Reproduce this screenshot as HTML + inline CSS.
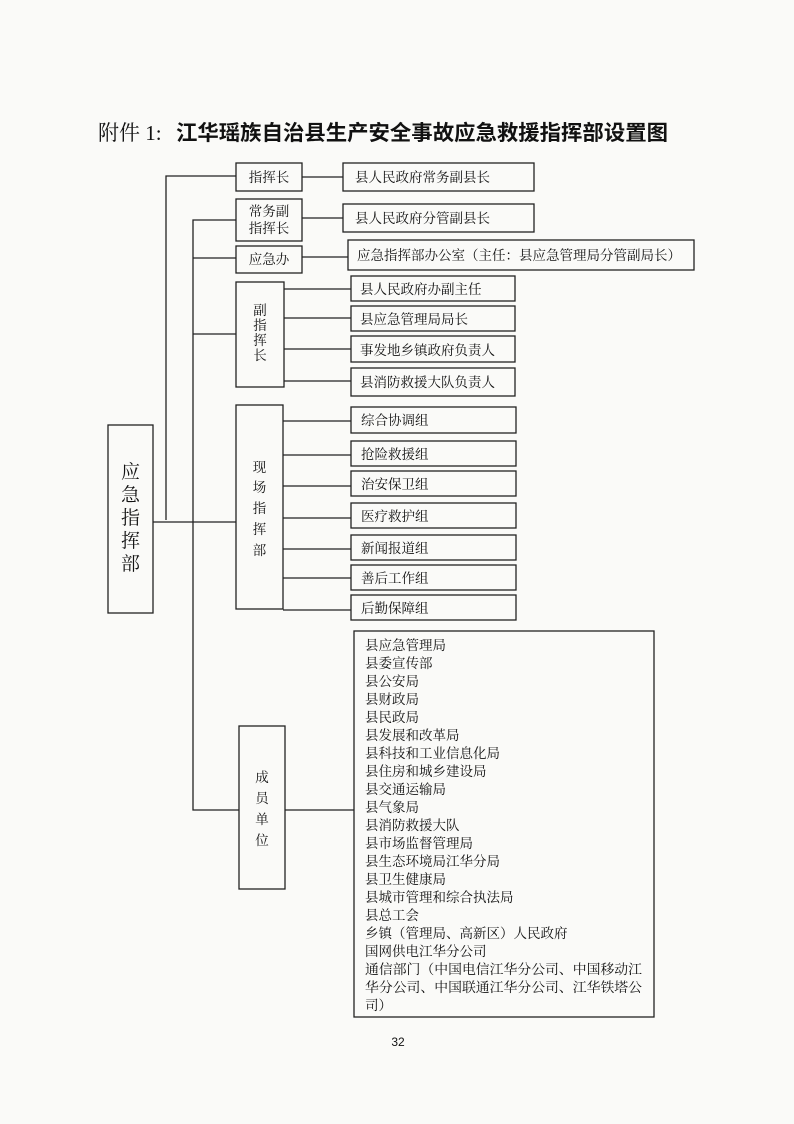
<!DOCTYPE html>
<html><head><meta charset="utf-8"><style>
html,body{margin:0;padding:0;background:#fafaf8;}
svg{display:block;}
text{font-family:"Liberation Serif","Noto Serif CJK SC","Noto Sans CJK SC",serif;fill:#111;}
.b{fill:none;stroke:#222;stroke-width:1.3;}
.l{stroke:#222;stroke-width:1.3;fill:none;}
.t{font-size:13.5px;}
</style></head><body>
<svg width="794" height="1124" viewBox="0 0 794 1124" xmlns="http://www.w3.org/2000/svg">
<text x="98" y="140" style="font-size:21px">附件 1:</text>
<text x="176" y="140" style="font-size:21px;font-weight:bold;font-family:'Noto Sans CJK SC',sans-serif" textLength="492" lengthAdjust="spacingAndGlyphs">江华瑶族自治县生产安全事故应急救援指挥部设置图</text>

<!-- trunk lines -->
<polyline class="l" points="236,176 166,176 166,520"/>
<line class="l" x1="153" y1="522" x2="236" y2="522"/>
<polyline class="l" points="236,220 193,220 193,810 239,810"/>
<line class="l" x1="193" y1="258" x2="236" y2="258"/>
<line class="l" x1="193" y1="334" x2="236" y2="334"/>

<!-- 应急指挥部 -->
<rect class="b" x="108" y="425" width="45" height="188"/>
<text x="130.5" y="478" text-anchor="middle" style="font-size:19px">应</text>
<text x="130.5" y="501" text-anchor="middle" style="font-size:19px">急</text>
<text x="130.5" y="524" text-anchor="middle" style="font-size:19px">指</text>
<text x="130.5" y="547" text-anchor="middle" style="font-size:19px">挥</text>
<text x="130.5" y="570" text-anchor="middle" style="font-size:19px">部</text>

<!-- 指挥长 -->
<rect class="b" x="236" y="163" width="66" height="28"/>
<text class="t" x="269" y="182" text-anchor="middle">指挥长</text>
<line class="l" x1="302" y1="177" x2="343" y2="177"/>
<rect class="b" x="343" y="163" width="191" height="28"/>
<text class="t" x="355" y="182">县人民政府常务副县长</text>

<!-- 常务副指挥长 -->
<rect class="b" x="236" y="199" width="66" height="42"/>
<text class="t" x="269" y="216" text-anchor="middle">常务副</text>
<text class="t" x="269" y="233" text-anchor="middle">指挥长</text>
<line class="l" x1="302" y1="218" x2="343" y2="218"/>
<rect class="b" x="343" y="204" width="191" height="28"/>
<text class="t" x="355" y="223">县人民政府分管副县长</text>

<!-- 应急办 -->
<rect class="b" x="236" y="246" width="66" height="27"/>
<text class="t" x="269" y="264" text-anchor="middle">应急办</text>
<line class="l" x1="302" y1="257" x2="348" y2="257"/>
<rect class="b" x="348" y="240" width="346" height="30"/>
<text class="t" x="357" y="260">应急指挥部办公室（主任：县应急管理局分管副局长）</text>

<!-- 副指挥长 -->
<rect class="b" x="236" y="282" width="48" height="105"/>
<text class="t" x="260" y="315" text-anchor="middle">副</text>
<text class="t" x="260" y="330" text-anchor="middle">指</text>
<text class="t" x="260" y="345" text-anchor="middle">挥</text>
<text class="t" x="260" y="360" text-anchor="middle">长</text>
<line class="l" x1="284" y1="289" x2="351" y2="289"/>
<line class="l" x1="284" y1="318" x2="351" y2="318"/>
<line class="l" x1="284" y1="349" x2="351" y2="349"/>
<line class="l" x1="284" y1="381" x2="351" y2="381"/>
<rect class="b" x="351" y="276" width="164" height="25"/><text class="t" x="360" y="294">县人民政府办副主任</text>
<rect class="b" x="351" y="306" width="164" height="25"/><text class="t" x="360" y="324">县应急管理局局长</text>
<rect class="b" x="351" y="336" width="164" height="26"/><text class="t" x="360" y="355">事发地乡镇政府负责人</text>
<rect class="b" x="351" y="368" width="164" height="28"/><text class="t" x="360" y="387">县消防救援大队负责人</text>

<!-- 现场指挥部 -->
<rect class="b" x="236" y="405" width="47" height="204"/>
<text class="t" x="259.5" y="472" text-anchor="middle">现</text>
<text class="t" x="259.5" y="492" text-anchor="middle">场</text>
<text class="t" x="259.5" y="513" text-anchor="middle">指</text>
<text class="t" x="259.5" y="534" text-anchor="middle">挥</text>
<text class="t" x="259.5" y="555" text-anchor="middle">部</text>
<line class="l" x1="283" y1="421" x2="351" y2="421"/>
<line class="l" x1="283" y1="455" x2="351" y2="455"/>
<line class="l" x1="283" y1="486" x2="351" y2="486"/>
<line class="l" x1="283" y1="518" x2="351" y2="518"/>
<line class="l" x1="283" y1="549" x2="351" y2="549"/>
<line class="l" x1="283" y1="578" x2="351" y2="578"/>
<line class="l" x1="283" y1="610" x2="351" y2="610"/>
<rect class="b" x="351" y="407" width="165" height="26"/><text class="t" x="361" y="425">综合协调组</text>
<rect class="b" x="351" y="441" width="165" height="25"/><text class="t" x="361" y="459">抢险救援组</text>
<rect class="b" x="351" y="471" width="165" height="25"/><text class="t" x="361" y="489">治安保卫组</text>
<rect class="b" x="351" y="503" width="165" height="25"/><text class="t" x="361" y="521">医疗救护组</text>
<rect class="b" x="351" y="535" width="165" height="25"/><text class="t" x="361" y="553">新闻报道组</text>
<rect class="b" x="351" y="565" width="165" height="25"/><text class="t" x="361" y="583">善后工作组</text>
<rect class="b" x="351" y="595" width="165" height="25"/><text class="t" x="361" y="613">后勤保障组</text>

<!-- 成员单位 -->
<rect class="b" x="239" y="726" width="46" height="163"/>
<text class="t" x="262" y="782" text-anchor="middle">成</text>
<text class="t" x="262" y="803" text-anchor="middle">员</text>
<text class="t" x="262" y="824" text-anchor="middle">单</text>
<text class="t" x="262" y="845" text-anchor="middle">位</text>
<line class="l" x1="285" y1="810" x2="354" y2="810"/>
<rect class="b" x="354" y="631" width="300" height="386"/>
<g class="t">
<text class="t" x="365" y="650">县应急管理局</text>
<text class="t" x="365" y="668">县委宣传部</text>
<text class="t" x="365" y="686">县公安局</text>
<text class="t" x="365" y="704">县财政局</text>
<text class="t" x="365" y="722">县民政局</text>
<text class="t" x="365" y="740">县发展和改革局</text>
<text class="t" x="365" y="758">县科技和工业信息化局</text>
<text class="t" x="365" y="776">县住房和城乡建设局</text>
<text class="t" x="365" y="794">县交通运输局</text>
<text class="t" x="365" y="812">县气象局</text>
<text class="t" x="365" y="830">县消防救援大队</text>
<text class="t" x="365" y="848">县市场监督管理局</text>
<text class="t" x="365" y="866">县生态环境局江华分局</text>
<text class="t" x="365" y="884">县卫生健康局</text>
<text class="t" x="365" y="902">县城市管理和综合执法局</text>
<text class="t" x="365" y="920">县总工会</text>
<text class="t" x="365" y="938">乡镇（管理局、高新区）人民政府</text>
<text class="t" x="365" y="956">国网供电江华分公司</text>
<text class="t" x="365" y="974" textLength="277" lengthAdjust="spacingAndGlyphs">通信部门（中国电信江华分公司、中国移动江</text>
<text class="t" x="365" y="992" textLength="277" lengthAdjust="spacingAndGlyphs">华分公司、中国联通江华分公司、江华铁塔公</text>
<text class="t" x="365" y="1010">司）</text>
</g>
<text x="398" y="1046" text-anchor="middle" style="font-size:12px;font-family:'Liberation Sans',sans-serif">32</text>
</svg>
</body></html>
